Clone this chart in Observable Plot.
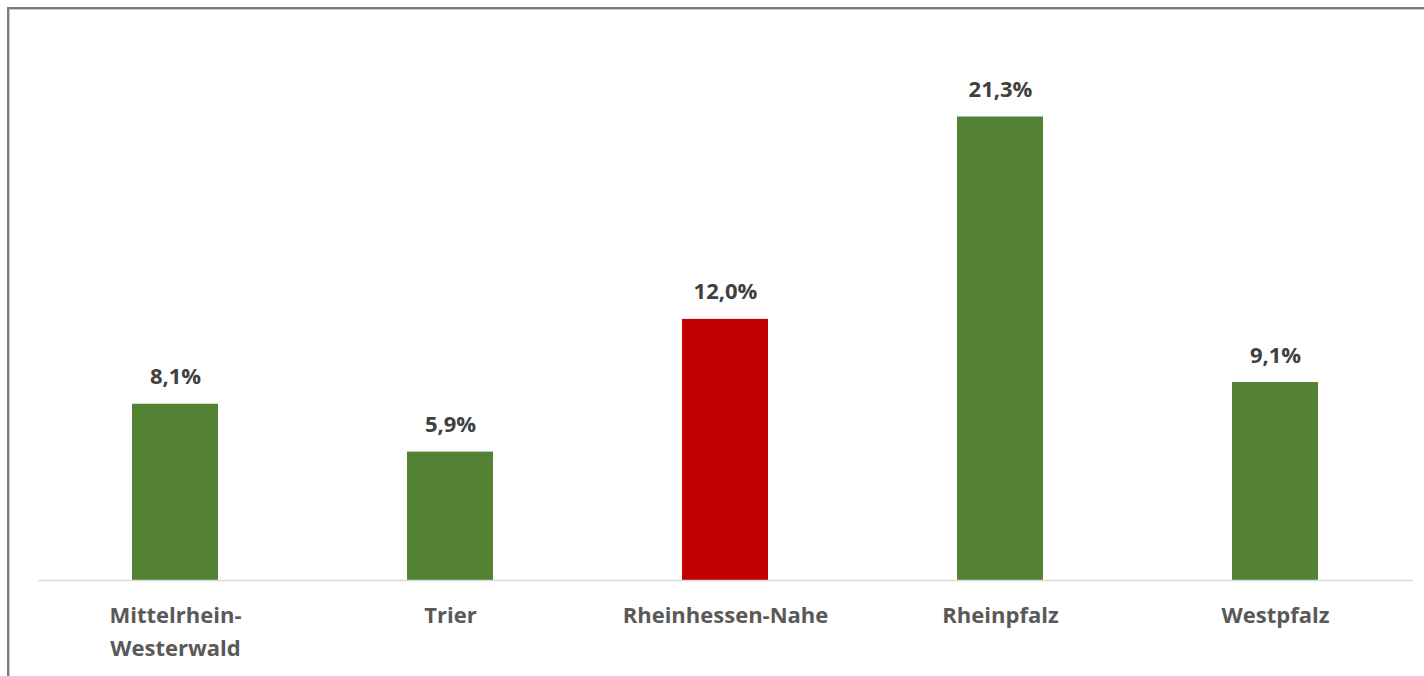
<!DOCTYPE html>
<html>
<head>
<meta charset="utf-8">
<script src="https://cdn.jsdelivr.net/npm/d3@7"></script>
<script src="https://cdn.jsdelivr.net/npm/@observablehq/plot@0.6"></script>
<style>
  html, body { margin: 0; padding: 0; background: #fff; }
  #wrap { position: relative; width: 1424px; height: 676px; overflow: hidden; }
  #frame { position: absolute; left: 7px; top: 7px; width: 1420px; height: 680px;
           border-top: 2px solid #7a7a7a; border-left: 2px solid #7a7a7a; box-shadow: inset 1px 1px 0 #c8c8c8; }
  #chart { position: absolute; left: 0; top: 0; }
</style>
</head>
<body>
<div id="wrap"><div id="frame"></div><div id="chart"></div></div>
<script>
const categories = ["Mittelrhein-\nWesterwald", "Trier", "Rheinhessen-Nahe", "Rheinpfalz", "Westpfalz"];
const values = [8.1, 5.9, 12.0, 21.3, 9.1];
const highlight = ["no", "no", "yes", "no", "no"];
const valueLabels = ["8,1%", "5,9%", "12,0%", "21,3%", "9,1%"];

const data = categories.map((c, i) => ({ cat: c, value: values[i], hl: highlight[i], label: valueLabels[i] }));

const font = "'Open Sans', Lato, sans-serif";

const chart = Plot.plot({
  width: 1424,
  height: 676,
  marginLeft: 38,
  marginRight: 11,
  marginTop: 36,
  marginBottom: 96,
  style: { fontFamily: font, background: "transparent" },
  x: { domain: categories, paddingInner: 0.687, paddingOuter: 0.3435, align: 0.5, axis: null },
  y: { domain: [0, 25], axis: null },
  color: { domain: ["no", "yes"], range: ["#548235", "#C00000"] },
  marks: [
    Plot.barY(data, { x: "cat", y: "value", fill: "hl" }),
    Plot.ruleY([0], { stroke: "#d9d9d9", strokeWidth: 1.5 }),
    Plot.text(data, { x: "cat", y: "value", text: "label", dy: -27, fill: "#404040",
      fontSize: 22, fontWeight: "bold", fontFamily: font }),
    Plot.text(data, { x: "cat", y: () => 0, text: "cat", dy: 19, lineAnchor: "top", lineHeight: 1.5,
      fill: "#595959", fontSize: 22, fontWeight: "bold", fontFamily: font })
  ]
});
document.getElementById("chart").appendChild(chart);
</script>
</body>
</html>
